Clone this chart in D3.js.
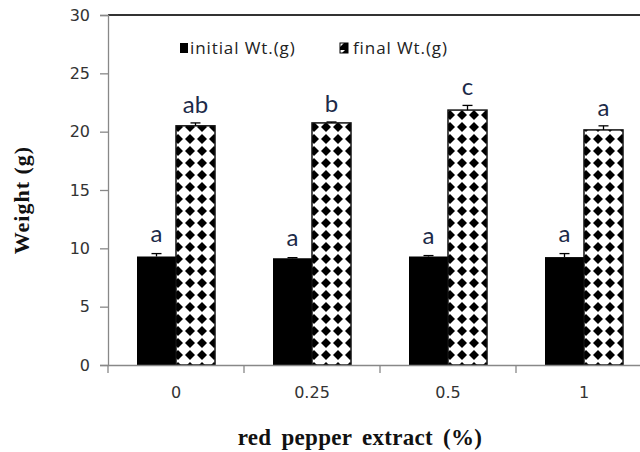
<!DOCTYPE html>
<html><head><meta charset="utf-8">
<script src="https://cdn.jsdelivr.net/npm/d3@7"></script>
<style>body{margin:0;background:#fff}svg{display:block}</style>
</head><body>
<svg id="c" width="640" height="452"></svg>
<script>
const categories = ["0", "0.25", "0.5", "1"];
const initialWt = [9.3, 9.15, 9.3, 9.25];
const initialErr = [0.25, 0.05, 0.08, 0.3];
const finalWt = [20.5, 20.75, 21.85, 20.15];
const finalErr = [0.25, 0.08, 0.4, 0.35];
const initialLetters = ["a", "a", "a", "a"];
const finalLetters = ["ab", "b", "c", "a"];
const yTicks = [0, 5, 10, 15, 20, 25, 30];
const seriesNames = ["initial Wt.(g)", "final Wt.(g)"];

const svg = d3.select("#c");
const mLeft = 108, mTop = 15, mBottom = 365;
const y = d3.scaleLinear().domain([0, 30]).range([mBottom, mTop]);
const x = d3.scaleBand().domain([...categories, "_"]).range([mLeft, mLeft + 136 * 5]).paddingInner(0).paddingOuter(0);
const bw = 39;

const defs = svg.append("defs");
categories.forEach((c, i) => {
  const p = defs.append("pattern").attr("id", "pat" + i)
    .attr("patternUnits", "userSpaceOnUse").attr("width", 12).attr("height", 12)
    .attr("x", x(c) + x.bandwidth() / 2 + 2 - 6).attr("y", mBottom - 4);
  p.append("rect").attr("width", 12).attr("height", 12).attr("fill", "#fff");
  p.append("path").attr("d", "M6,1 L11,6 L6,11 L1,6 Z").attr("fill", "#000");
});
const pl = defs.append("pattern").attr("id", "patL")
  .attr("patternUnits", "userSpaceOnUse").attr("width", 8).attr("height", 8).attr("x", 340).attr("y", 42);
pl.append("rect").attr("width", 8).attr("height", 8).attr("fill", "#000");
pl.append("path").attr("d", "M0,0 L5,0 L0,5 Z").attr("fill", "#fff");

// top border
svg.append("line").attr("x1", mLeft).attr("x2", 640).attr("y1", y(30)).attr("y2", y(30))
  .attr("stroke", "#333").attr("stroke-width", 2);

// y axis
const ya = svg.append("g").attr("transform", `translate(${mLeft},0)`)
  .call(d3.axisLeft(y).tickValues(yTicks).tickSize(8).tickPadding(10));
ya.select(".domain").attr("stroke", "#888").attr("stroke-width", 1.3);
ya.selectAll(".tick line").attr("stroke", "#888").attr("stroke-width", 1.3);
ya.selectAll(".tick text").attr("font-family", "DejaVu Sans").attr("font-size", 16).attr("fill", "#333");

// bars
categories.forEach((c, i) => {
  const cx = x(c) + x.bandwidth() / 2;
  svg.append("rect").attr("x", cx - bw).attr("y", y(initialWt[i])).attr("width", bw)
    .attr("height", y(0) - y(initialWt[i])).attr("fill", "#000");
  svg.append("rect").attr("x", cx).attr("y", y(finalWt[i])).attr("width", bw)
    .attr("height", y(0) - y(finalWt[i])).attr("fill", `url(#pat${i})`)
    .attr("stroke", "#111").attr("stroke-width", 1.5);
  [[cx - bw / 2, initialWt[i], initialErr[i]], [cx + bw / 2, finalWt[i], finalErr[i]]].forEach(([ex, v, e]) => {
    svg.append("line").attr("x1", ex).attr("x2", ex).attr("y1", y(v)).attr("y2", y(v + e)).attr("stroke", "#000").attr("stroke-width", 1.3);
    svg.append("line").attr("x1", ex - 5).attr("x2", ex + 5).attr("y1", y(v + e)).attr("y2", y(v + e)).attr("stroke", "#000").attr("stroke-width", 1.3);
  });
  svg.append("text").attr("x", cx - bw / 2).attr("y", y(initialWt[i] + initialErr[i]) - 12)
    .attr("text-anchor", "middle").attr("font-family", "Lato").attr("font-size", 24).attr("fill", "#1c2a48").text(initialLetters[i]);
  svg.append("text").attr("x", cx + bw / 2).attr("y", y(finalWt[i] + finalErr[i]) - 10)
    .attr("text-anchor", "middle").attr("font-family", "Lato").attr("font-size", 24).attr("fill", "#1c2a48").text(finalLetters[i]);
});

// x axis
const xa = svg.append("g").attr("transform", `translate(0,${mBottom})`)
  .call(d3.axisBottom(x).tickValues(categories).tickSize(0).tickPadding(22));
xa.select(".domain").attr("stroke", "#888").attr("stroke-width", 1.3);
xa.selectAll(".tick text").attr("font-family", "DejaVu Sans").attr("font-size", 16).attr("fill", "#333");
const xt = svg.append("g");
[...categories, "_"].forEach(c => {
  xt.append("line").attr("x1", x(c)).attr("x2", x(c)).attr("y1", mBottom).attr("y2", mBottom + 8)
    .attr("stroke", "#888").attr("stroke-width", 1.3);
});

// titles
svg.append("text").attr("transform", "translate(29,200) rotate(-90)").attr("text-anchor", "middle")
  .attr("font-family", "Liberation Serif").attr("font-weight", "bold").attr("font-size", 22).attr("fill", "#111")
  .attr("letter-spacing", 1).text("Weight (g)");
svg.append("text").attr("x", 360).attr("y", 445).attr("text-anchor", "middle")
  .attr("font-family", "Liberation Serif").attr("font-weight", "bold").attr("font-size", 23).attr("fill", "#111")
  .attr("letter-spacing", 0.3).attr("word-spacing", 4).text("red pepper extract (%)");

// legend
svg.append("rect").attr("x", 180).attr("y", 43).attr("width", 8).attr("height", 10).attr("fill", "#000");
svg.append("text").attr("x", 190).attr("y", 54).attr("font-family", "Open Sans").attr("font-size", 17).attr("letter-spacing", 0.9).attr("fill", "#222").text(seriesNames[0]);
svg.append("rect").attr("x", 340).attr("y", 43).attr("width", 8).attr("height", 10).attr("fill", "url(#patL)").attr("stroke", "#000").attr("stroke-width", 1);
svg.append("text").attr("x", 353).attr("y", 54).attr("font-family", "Open Sans").attr("font-size", 17).attr("letter-spacing", 0.9).attr("fill", "#222").text(seriesNames[1]);
</script>
</body></html>
